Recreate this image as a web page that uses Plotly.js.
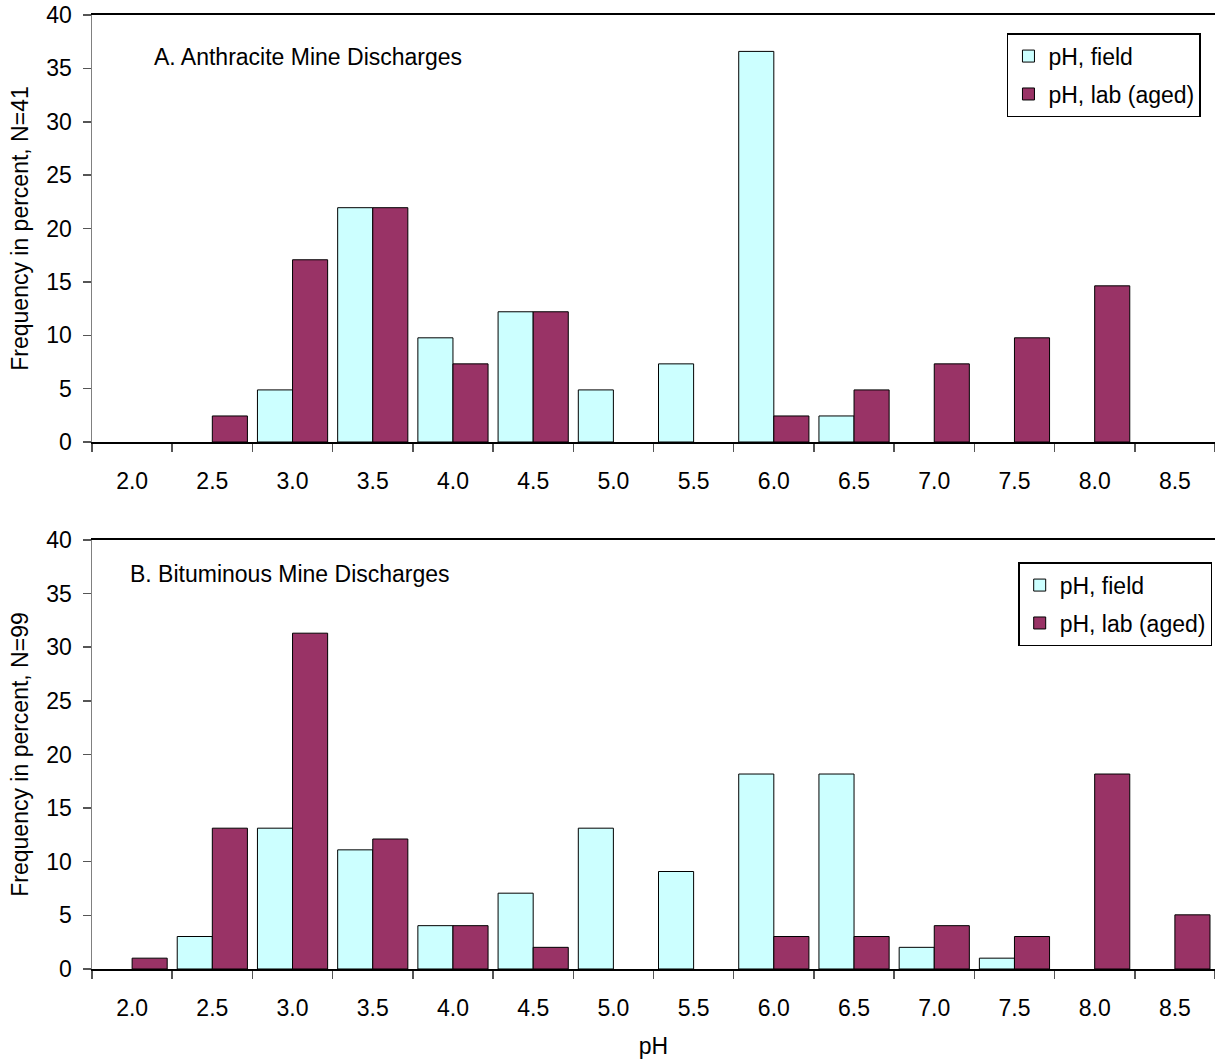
<!DOCTYPE html>
<html>
<head>
<meta charset="utf-8">
<script src="https://cdn.plot.ly/plotly-3.0.1.min.js"></script>
<style>html,body{margin:0;padding:0;background:#fff;}#chart{width:1215px;height:1061px;}</style>
</head>
<body>
<div id="chart"></div>
<script>
var categories = ["2.0","2.5","3.0","3.5","4.0","4.5","5.0","5.5","6.0","6.5","7.0","7.5","8.0","8.5"];
var anthraciteField = [0, 0, 4.88, 21.95, 9.76, 12.20, 4.88, 7.32, 36.59, 2.44, 0, 0, 0, 0];
var anthraciteLab   = [0, 2.44, 17.07, 21.95, 7.32, 12.20, 0, 0, 2.44, 4.88, 7.32, 9.76, 14.63, 0];
var bituminousField = [0, 3.03, 13.13, 11.11, 4.04, 7.07, 13.13, 9.09, 18.18, 18.18, 2.02, 1.01, 0, 0];
var bituminousLab   = [1.01, 13.13, 31.31, 12.12, 4.04, 2.02, 0, 0, 3.03, 3.03, 4.04, 3.03, 18.18, 5.05];
var yTicks = [0, 5, 10, 15, 20, 25, 30, 35, 40];

var cyan = "#CCFFFF", maroon = "#993366";
var fontFam = "Liberation Sans, Arial, sans-serif";
var FS = 23;

function bar(y, name, color, xa, ya, leg, grp) {
  return {type: "bar", x: categories, y: y.map(function (v) { return v === 0 ? null : v; }), name: name,
    xaxis: xa, yaxis: ya, legend: leg, legendgroup: grp,
    marker: {color: color, line: {color: "#000", width: 1}}, hoverinfo: "x+y"};
}
var data = [
  bar(anthraciteField, "pH, field", cyan, "x", "y", "legend", "a1"),
  bar(anthraciteLab, "pH, lab (aged)", maroon, "x", "y", "legend", "a2"),
  bar(bituminousField, "pH, field", cyan, "x2", "y2", "legend2", "b1"),
  bar(bituminousLab, "pH, lab (aged)", maroon, "x2", "y2", "legend2", "b2")
];

function xax(anchor, title) {
  var o = {type: "category", range: [-0.5, 13.5], anchor: anchor, showline: true, linecolor: "#000", linewidth: 2,
    mirror: true, ticks: "outside", tickson: "boundaries", ticklen: 8, tickcolor: "#555", tickwidth: 1.5,
    showgrid: false, zeroline: false, ticklabelstandoff: 17, tickfont: {size: FS, color: "#000"}};
  if (title) { o.title = {text: title, font: {size: FS, color: "#000"}, standoff: 18}; }
  return o;
}
function yax(anchor, domain, title) {
  return {range: [0, 40], domain: domain, anchor: anchor, tickvals: yTicks, ticktext: yTicks.map(String),
    showline: true, linecolor: "#808080", linewidth: 1.5, ticks: "outside", ticklen: 8, tickcolor: "#555",
    tickwidth: 1.5, showgrid: false, zeroline: false, tickfont: {size: FS, color: "#000"}, ticklabelstandoff: 6,
    title: {text: title, font: {size: FS, color: "#000"}, standoff: 11}};
}

var layout = {
  width: 1215, height: 1061,
  margin: {l: 92, r: 0, t: 15, b: 92},
  paper_bgcolor: "#fff", plot_bgcolor: "#fff",
  font: {family: fontFam, size: FS, color: "#000"},
  barmode: "group", bargap: 0.125, bargroupgap: 0,
  xaxis: xax("y", null),
  yaxis: yax("x", [0.5524, 1], "Frequency in percent, N=41"),
  xaxis2: xax("y2", "pH"),
  yaxis2: yax("x2", [0, 0.4497], "Frequency in percent, N=99"),
  legend: {x: 0.9875, xanchor: "right", y: 0.981, yanchor: "top", bgcolor: "#fff", bordercolor: "#000",
    borderwidth: 1.5, font: {size: FS}, tracegroupgap: 5, itemwidth: 30},
  legend2: {x: 0.9975, xanchor: "right", y: 0.4265, yanchor: "top", bgcolor: "#fff", bordercolor: "#000",
    borderwidth: 1.5, font: {size: FS}, tracegroupgap: 5, itemwidth: 30},
  annotations: [
    {text: "A. Anthracite Mine Discharges", xref: "paper", yref: "paper", x: (152-92)/1123, xanchor: "left",
      y: (969-57)/954, yanchor: "middle", showarrow: false, font: {size: FS}},
    {text: "B. Bituminous Mine Discharges", xref: "paper", yref: "paper", x: (128-92)/1123, xanchor: "left",
      y: (969-574)/954, yanchor: "middle", showarrow: false, font: {size: FS}}
  ]
};
Plotly.newPlot("chart", data, layout, {displayModeBar: false, staticPlot: true});
</script>
</body>
</html>
